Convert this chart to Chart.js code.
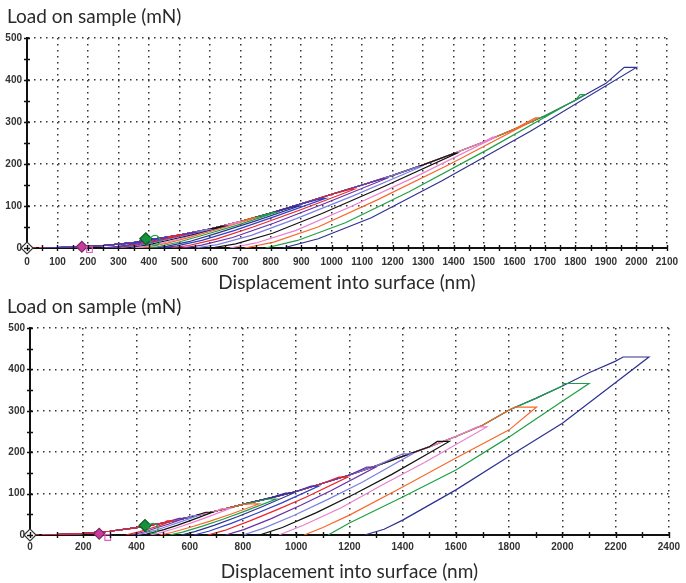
<!DOCTYPE html>
<html>
<head>
<meta charset="utf-8">
<script src="https://cdn.jsdelivr.net/npm/chart.js@4.4.1/dist/chart.umd.min.js"></script>
<style>
  html, body { margin: 0; padding: 0; background: #fff; }
  .panel { position: absolute; left: 0; width: 686px; }
  #wrap-top { top: 0; height: 296px; }
  #wrap-bottom { top: 290px; height: 293px; }
</style>
</head>
<body>
<div class="panel" id="wrap-top"><canvas id="chart-top" width="686" height="296"></canvas></div>
<div class="panel" id="wrap-bottom"><canvas id="chart-bottom" width="686" height="293"></canvas></div>
<script>
// ---- top panel data: [displacement nm, load mN] ----
const topLoading = [[50,0],[100,1],[150,2],[200,4],[250,6],[300,9],[350,13],[400,20],[450,25],[500,31],[550,38],[600,45],[650,54],[700,63],[800,83],[900,105],[1000,128],[1100,150],[1200,173],[1300,198],[1400,225],[1500,253],[1600,283],[1700,315],[1800,352],[1900,392]];
const topHoldStart = [1960,1815,1668,1528,1402,1282,1168,1065,970,883,810,742,692,640,590,545,500,455];
const topUnloading = [
  [[2000,430],[1652,278],[1362,160],[1130,72],[956,22],[840,0]],
  [[1830,365],[1516,236],[1254,134],[1045,60],[888,18],[783,0]],
  [[1678,310],[1389,200],[1148,114],[955,50],[810,14],[714,0]],
  [[1538,264],[1276,170],[1058,97],[883,42],[752,12],[665,0]],
  [[1412,226],[1170,146],[968,82],[806,35],[685,10],[604,0]],
  [[1292,193],[1070,124],[884,70],[736,30],[625,8],[551,0]],
  [[1178,165],[977,106],[809,59],[675,25],[574,7],[507,0]],
  [[1075,140],[894,90],[742,50],[621,21],[531,6],[470,0]],
  [[980,118],[817,76],[682,42],[574,18],[492,5],[438,0]],
  [[893,100],[748,64],[627,36],[531,15],[458,4],[410,0]],
  [[818,85],[688,54],[580,31],[493,13],[428,3],[385,0]],
  [[750,72],[633,46],[536,26],[458,11],[399,3],[360,0]],
  [[700,62],[592,40],[502,22],[430,9],[376,2],[340,0]],
  [[648,52],[549,33],[467,19],[401,8],[318,0]],
  [[598,44],[508,28],[433,16],[373,7],[298,0]],
  [[552,37],[470,24],[402,13],[348,6],[280,0]],
  [[507,31],[434,20],[372,11],[323,5],[262,0]],
  [[462,26],[397,17],[343,9],[299,4],[245,0]]
];
const topMarkers = [[0,0],[180,3],[205,-4],[390,22],[420,18]];
const topStart = [[0,0],[60,1]];

// ---- bottom panel data ----
const botLoading = [[50,0],[100,1],[200,4],[300,9],[400,18],[500,29],[600,43],[700,58],[800,74],[900,89],[1000,105],[1100,125],[1200,145],[1300,167],[1400,190],[1500,213],[1600,238],[1700,265],[1800,302],[1900,330],[2000,360],[2100,392],[2200,420]];
const botHoldStart = [2228,2004,1821,1680,1530,1400,1265,1160,1055,960,895,830,720,660,610,560,515];
const botUnloading = [
  [[2325,430],[2000,270],[1800,190],[1600,109],[1400,36],[1330,14],[1257,0]],
  [[2100,366],[1990,319],[1800,237],[1600,157],[1400,92],[1200,29],[1120,0]],
  [[1903,309],[1800,254],[1600,186],[1400,116],[1200,48],[1100,18],[1030,0]],
  [[1716,261],[1482,175],[1326,122],[1169,66],[1029,24],[935,0]],
  [[1575,226],[1361,147],[1219,99],[1076,54],[948,18],[862,0]],
  [[1437,196],[1246,127],[1119,86],[991,47],[876,16],[800,0]],
  [[1299,164],[1130,107],[1017,72],[904,39],[803,13],[735,0]],
  [[1194,140],[1036,91],[931,62],[826,34],[731,11],[668,0]],
  [[1085,118],[944,77],[850,52],[756,28],[671,9],[615,0]],
  [[989,101],[863,66],[779,44],[694,24],[619,8],[568,0]],
  [[925,87],[805,57],[725,38],[645,21],[573,7],[525,0]],
  [[860,75],[748,49],[674,33],[599,18],[532,6],[487,0]],
  [[750,64],[661,42],[601,28],[541,15],[488,5],[452,0]],
  [[685,55],[607,36],[555,24],[503,13],[425,0]],
  [[632,47],[562,31],[516,21],[470,11],[400,0]],
  [[580,40],[519,26],[479,18],[439,9],[378,0]],
  [[535,34],[483,22],[448,15],[413,8],[360,0]]
];
const botMarkers = [[0,0],[260,3],[292,-6],[432,23],[462,16]];
const botStart = [[0,0],[60,1]];

// ---- styles ----
const palette = ['#2e3192','#1fa046','#f7692a','#ea7fcf','#111111','#7b7fe0','#6b2fa6','#e8262b','#3140c4'];
const markerStyle = {
  pointStyle: ['rectRot','rectRot','rect','rectRot','circle'],
  radius: [6,5.5,4,6,5],
  fill: ['#ffffff','#c63d9e','rgba(0,0,0,0)','#17903a','rgba(0,0,0,0)'],
  stroke: ['#333333','#7a2a66','#e060c0','#0d5a25','#20a050']
};
const titleFont = '19px Lato';

const xy = (p) => ({ x: p[0], y: p[1] });

function buildLoops(loading, holdStart, unloading) {
  const n = unloading.length;
  return unloading.map((unload, i) => {
    const pts = loading.filter(p => p[0] < holdStart[i])
      .concat([[holdStart[i], unload[0][1]]], unload);
    return {
      data: pts.map(xy),
      showLine: true,
      borderColor: palette[i % palette.length],
      borderWidth: 1.2,
      pointRadius: 0,
      order: n - i + 2
    };
  });
}

// small crossing tick marks on both axes
const minorTicks = {
  id: 'minorTicks',
  afterDraw(chart, args, opts) {
    const { ctx, scales: { x, y } } = chart;
    ctx.save();
    ctx.strokeStyle = '#111';
    ctx.lineWidth = 1.4;
    ctx.beginPath();
    for (let v = x.min; v <= x.max; v += opts.xStep) {
      const px = Math.round(x.getPixelForValue(v)) + 0.5;
      ctx.moveTo(px, y.bottom - 3);
      ctx.lineTo(px, y.bottom + 3);
    }
    for (let v = y.min; v <= y.max; v += opts.yStep) {
      const py = Math.round(y.getPixelForValue(v)) + 0.5;
      ctx.moveTo(x.left - 3, py);
      ctx.lineTo(x.left + 3, py);
    }
    ctx.stroke();
    ctx.restore();
  }
};

// "Load on sample (mN)" heading, offset from the left edge
const panelTitle = {
  id: 'panelTitle',
  afterDraw(chart, args, opts) {
    const ctx = chart.ctx;
    ctx.save();
    ctx.font = titleFont;
    ctx.fillStyle = '#2a2a2a';
    ctx.textBaseline = 'middle';
    ctx.textAlign = 'left';
    ctx.fillText(opts.text, opts.x, opts.y);
    ctx.restore();
  }
};

function makeChart(id, cfg) {
  const datasets = buildLoops(cfg.loading, cfg.holdStart, cfg.unloading);
  datasets.push({
    data: cfg.start.map(xy),
    showLine: true,
    borderColor: '#e8362b',
    borderWidth: 1.2,
    borderDash: [3, 3],
    pointRadius: 0,
    order: 1
  });
  datasets.push({
    data: cfg.markers.map(xy),
    showLine: false,
    pointStyle: markerStyle.pointStyle,
    pointRadius: markerStyle.radius,
    pointBackgroundColor: markerStyle.fill,
    pointBorderColor: markerStyle.stroke,
    pointBorderWidth: 1.2,
    clip: false,
    order: 0
  });

  const tickFont = { family: 'Liberation Sans', size: 10, weight: 'bold' };

  return new Chart(document.getElementById(id), {
    type: 'scatter',
    data: { datasets: datasets },
    options: {
      responsive: false,
      animation: false,
      events: [],
      layout: { padding: { left: 0, right: cfg.padRight, top: 38, bottom: 0 } },
      plugins: {
        legend: { display: false },
        tooltip: { enabled: false },
        title: { display: false },
        panelTitle: { text: 'Load on sample (mN)', x: 7, y: 17 },
        minorTicks: { xStep: cfg.xMinor, yStep: 50 }
      },
      scales: {
        x: {
          type: 'linear',
          min: 0,
          max: cfg.xMax,
          afterFit: (s) => { s.height = cfg.xHeight; },
          ticks: {
            stepSize: cfg.xStep,
            autoSkip: false,
            maxRotation: 0,
            padding: cfg.xTickPad,
            color: '#333',
            font: tickFont,
            callback: (v) => String(v)
          },
          grid: { color: '#333', lineWidth: 1.5, drawTicks: false },
          border: { display: true, color: '#111', width: 2, dash: [1.5, 4.5] },
          title: {
            display: true,
            text: 'Displacement into surface (nm)',
            color: '#2a2a2a',
            font: { family: 'Lato', size: 19, weight: 'normal' },
            padding: { top: 0, bottom: cfg.xTitlePad }
          }
        },
        y: {
          type: 'linear',
          min: 0,
          max: 500,
          afterFit: (s) => { s.width = cfg.yWidth; },
          ticks: {
            stepSize: 100,
            padding: 5,
            color: '#333',
            font: tickFont,
            callback: (v) => String(v)
          },
          grid: { color: '#333', lineWidth: 1.5, drawTicks: false },
          border: { display: true, color: '#111', width: 2, dash: [1.5, 4.5] }
        }
      }
    },
    plugins: [minorTicks, panelTitle]
  });
}

makeChart('chart-top', {
  loading: topLoading, holdStart: topHoldStart, unloading: topUnloading,
  markers: topMarkers, start: topStart,
  xMax: 2100, xStep: 100, xMinor: 50,
  padRight: 12, yWidth: 27, xHeight: 48, xTickPad: 8, xTitlePad: 1.5
});

makeChart('chart-bottom', {
  loading: botLoading, holdStart: botHoldStart, unloading: botUnloading,
  markers: botMarkers, start: botStart,
  xMax: 2400, xStep: 200, xMinor: 100,
  padRight: 13, yWidth: 30, xHeight: 48, xTickPad: 6, xTitlePad: 0
});
</script>
</body>
</html>
